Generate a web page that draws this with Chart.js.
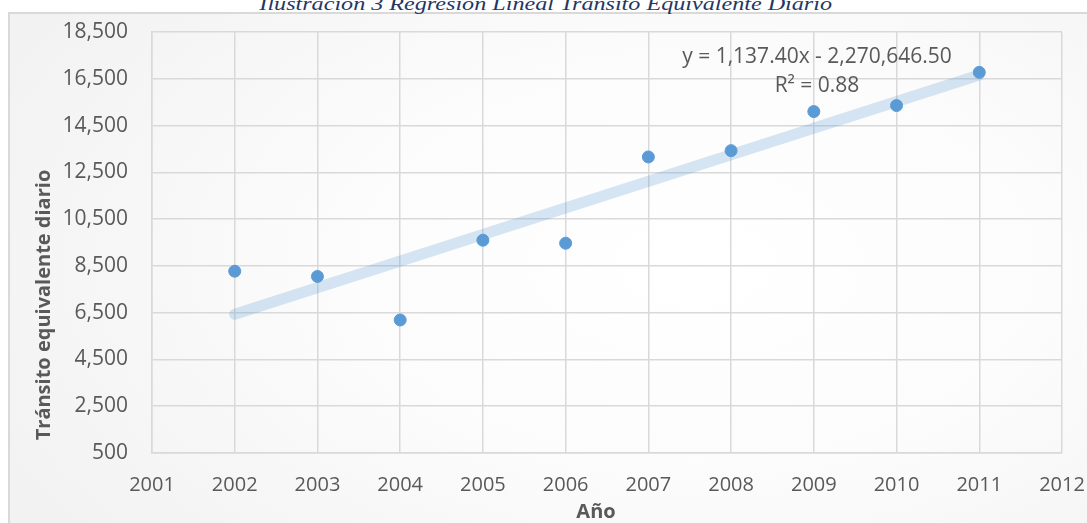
<!DOCTYPE html>
<html>
<head>
<meta charset="utf-8">
<script src="https://cdn.jsdelivr.net/npm/chart.js@4/dist/chart.umd.min.js"></script>
<style>
  html, body { margin: 0; padding: 0; background: #ffffff; overflow: hidden; }
  #page { position: relative; width: 1087px; height: 523px; overflow: hidden; }
  #frame {
    position: absolute; left: 8px; top: 12px; width: 1110px; height: 560px;
    border: 2px solid #d9d9d9; box-sizing: border-box;
    background: radial-gradient(ellipse 70% 80% at 62% 45%, #ffffff 0%, #fcfcfc 45%, #f2f2f2 100%);
  }
  #caption {
    position: absolute; left: 0; width: 1092px; top: -5px; text-align: center;
    font: italic 18px "Liberation Serif", "DejaVu Serif", serif; line-height: 18px;
    color: #1f3864; white-space: nowrap;
  }
  #caption span { display: inline-block; transform: scaleX(1.34); transform-origin: 50% 0; }
  #wrap { position: absolute; left: 0; top: 0; width: 1087px; height: 523px; }
</style>
</head>
<body>
<div id="page">
  <div id="frame"></div>
  <div id="caption"><span>Ilustración 3 Regresión Lineal Tránsito Equivalente Diario</span></div>
  <div id="wrap"><canvas id="c" width="1087" height="523"></canvas></div>
</div>
<script>
// Años observados y tránsito equivalente diario
const years = [2002, 2003, 2004, 2005, 2006, 2007, 2008, 2009, 2010, 2011];
const transito = [8274, 8047, 6188, 9598, 9470, 13158, 13427, 15098, 15355, 16774];

// Recta de regresión: y = pendiente * x + intercepto
const trendSlope = [1137.40];
const trendIntercept = [-2270646.50];
const trendLabels = ['y = 1,137.40x - 2,270,646.50', 'R² = 0.88'];

// Ejes
const xRange = [2001, 2012];
const yRange = [500, 18500];
const yStep = [2000];

const axisTitles = ['Tránsito equivalente diario', 'Año'];

const points = years.map((yr, i) => ({ x: yr, y: transito[i] }));
const trendEnds = [years[0], years[years.length - 1]].map(yr => ({
  x: yr, y: trendSlope[0] * yr + trendIntercept[0]
}));

const grey = '#595959';
const gridColor = '#d9d9d9';

const annotations = {
  id: 'annotations',
  afterDraw(chart) {
    const ctx = chart.ctx;
    ctx.save();
    ctx.fillStyle = grey;
    ctx.textAlign = 'center';
    ctx.textBaseline = 'middle';
    // ecuación de la tendencia
    ctx.font = '21px "Open Sans", sans-serif';
    ctx.fillText(trendLabels[0], 817, 57);
    ctx.fillText(trendLabels[1], 817, 86);
    // títulos de ejes
    ctx.font = 'bold 20px "Open Sans", sans-serif';
    ctx.fillText(axisTitles[1], 596, 512);
    ctx.translate(44, 305);
    ctx.rotate(-Math.PI / 2);
    ctx.fillText(axisTitles[0], 0, 0);
    ctx.restore();
  }
};

new Chart(document.getElementById('c'), {
  type: 'scatter',
  data: {
    datasets: [
      {
        label: 'Tránsito',
        data: points,
        backgroundColor: '#5b9bd5',
        borderColor: '#5b9bd5',
        pointRadius: 6,
        pointHoverRadius: 6,
        order: 1
      },
      {
        label: 'Lineal',
        type: 'line',
        data: trendEnds,
        borderColor: 'rgba(91,155,213,0.25)',
        borderWidth: 11,
        borderCapStyle: 'round',
        pointRadius: 0,
        fill: false,
        order: 2
      }
    ]
  },
  plugins: [annotations],
  options: {
    responsive: false,
    animation: false,
    layout: { padding: { top: 32, right: 25, bottom: 0, left: 0 } },
    plugins: { legend: { display: false }, tooltip: { enabled: false } },
    scales: {
      x: {
        type: 'linear',
        min: xRange[0], max: xRange[1],
        afterFit(s) { s.height = 70; s.paddingLeft = 0; s.paddingRight = 0; },
        grid: { color: gridColor, lineWidth: 1.5, drawTicks: false },
        border: { color: gridColor, width: 1.5 },
        ticks: {
          stepSize: 1, padding: 20, color: grey,
          font: { family: 'Open Sans', size: 20 },
          callback: v => String(v)
        }
      },
      y: {
        min: yRange[0], max: yRange[1],
        afterFit(s) { s.width = 152; s.paddingTop = 0; s.paddingBottom = 0; },
        afterBuildTicks(s) {
          const t = [];
          for (let v = yRange[0]; v <= yRange[1]; v += yStep[0]) t.push({ value: v });
          s.ticks = t;
        },
        grid: { color: gridColor, lineWidth: 1.5, drawTicks: false },
        border: { color: gridColor, width: 1.5 },
        ticks: {
          padding: 24, color: grey,
          font: { family: 'Open Sans', size: 21 },
          callback: v => v.toLocaleString('en-US')
        }
      }
    }
  }
});
</script>
</body>
</html>
